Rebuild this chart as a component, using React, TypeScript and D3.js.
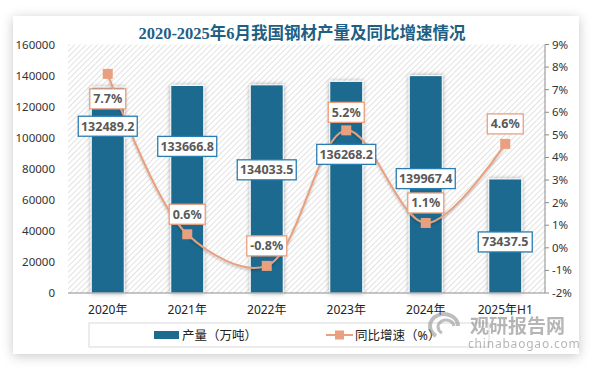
import React from "react";
import * as d3 from "d3";

const years = ["2020年", "2021年", "2022年", "2023年", "2024年", "2025年H1"];
const output = [132489.2, 133666.8, 134033.5, 136268.2, 139967.4, 73437.5];
const growth = [7.7, 0.6, -0.8, 5.2, 1.1, 4.6];
const leftTicks = [0, 20000, 40000, 60000, 80000, 100000, 120000, 140000, 160000];
const rightTicks = [-2, -1, 0, 1, 2, 3, 4, 5, 6, 7, 8, 9];

// hand placement of the labels (px from bar top / from marker)
const barLabelDy = [39, 61, 85, 73, 103, 63];
const pctLabelDy = [25, -20, -20, -18, -20, -20];

const W = 592;
const H = 368;
const m = { left: 68, right: 545, top: 44.5, bottom: 293 };
const BAR = "#1E6B8F";
const LINE = "#E9A07E";
const TXT = "#595959";
const FONT = "'Noto Sans', 'Noto Sans CJK SC', sans-serif";

const App: React.FC = () => {
  const x = d3.scaleBand<string>().domain(years).range([m.left, m.right]).paddingInner(0.585).paddingOuter(0.2925);
  const yL = d3.scaleLinear().domain([0, 160000]).range([m.bottom, m.top]);
  const yR = d3.scaleLinear().domain([-2, 9]).range([m.bottom, m.top]);
  const cx = (i: number) => (x(years[i]) as number) + x.bandwidth() / 2;

  const line = d3
    .line<number>()
    .x((_, i) => cx(i))
    .y((d) => yR(d))
    .curve(d3.curveCatmullRom.alpha(0.5));

  const box = (key: string, cxv: number, cyv: number, text: string, stroke: string, w: number) => (
    <g key={key}>
      <rect x={cxv - w / 2} y={cyv - 10} width={w} height={20} fill="#fff" stroke={stroke} strokeWidth={1.3} />
      <text x={cxv} y={cyv + 4.5} textAnchor="middle" fontSize={12.5} fontWeight="bold" fill={TXT} fontFamily={FONT}>
        {text}
      </text>
    </g>
  );

  return (
    <svg width={W} height={H} style={{ position: "absolute", left: 0, top: 0 }}>
      <defs>
        <filter id="card" x="-10%" y="-10%" width="120%" height="120%">
          <feDropShadow dx="0" dy="2" stdDeviation="6" floodColor="#000" floodOpacity="0.22" />
        </filter>
        <filter id="bsh" x="-30%" y="-10%" width="160%" height="120%">
          <feDropShadow dx="0" dy="0" stdDeviation="2" floodColor="#000" floodOpacity="0.35" />
        </filter>
        <filter id="lsh" x="-10%" y="-10%" width="120%" height="130%">
          <feDropShadow dx="0" dy="1.5" stdDeviation="1.2" floodColor="#000" floodOpacity="0.25" />
        </filter>
        <pattern id="hatch" width="4" height="4" patternUnits="userSpaceOnUse" patternTransform="rotate(45)">
          <rect width="4" height="4" fill="#fff" />
          <line x1="0" y1="0" x2="0" y2="4" stroke="#d6d6d6" strokeWidth="1.4" />
        </pattern>
      </defs>

      <rect width={W} height={H} fill="#fff" />
      <rect x={13} y={16} width={566} height={338} fill="#fff" filter="url(#card)" />

      <text x={302} y={39} textAnchor="middle" fontSize={16.5} fontWeight="bold" fill="#1F5F84"
        fontFamily="'Liberation Serif', 'Noto Sans CJK SC', serif">
        2020-2025年6月我国钢材产量及同比增速情况
      </text>

      <rect x={m.left} y={m.top} width={m.right - m.left} height={m.bottom - m.top} fill="url(#hatch)" />

      {leftTicks.map((t) => (
        <text key={t} x={55} y={yL(t) + 4} textAnchor="end" fontSize={11.5} fill="#333" fontFamily={FONT}>
          {t}
        </text>
      ))}

      <line x1={m.right} x2={m.right} y1={m.top} y2={m.bottom} stroke="#8c8c8c" />
      {rightTicks.map((t) => (
        <g key={t}>
          <line x1={m.right} x2={m.right + 4} y1={yR(t)} y2={yR(t)} stroke="#8c8c8c" />
          <text x={552} y={yR(t) + 4} fontSize={11.5} fill="#333" fontFamily={FONT}>
            {t}%
          </text>
        </g>
      ))}

      {output.map((v, i) => (
        <rect key={i} x={x(years[i])} y={yL(v)} width={x.bandwidth()} height={yL(0) - yL(v)}
          fill={BAR} stroke="#fff" strokeWidth={1} filter="url(#bsh)" />
      ))}

      <line x1={m.left} x2={m.right} y1={m.bottom} y2={m.bottom} stroke="#8c8c8c" />

      {years.map((c, i) => (
        <text key={c} x={cx(i)} y={314} textAnchor="middle" fontSize={12} fill="#222" fontFamily={FONT}>
          {c}
        </text>
      ))}

      <path d={line(growth) || ""} fill="none" stroke={LINE} strokeWidth={2} filter="url(#lsh)" />
      {growth.map((g, i) => (
        <rect key={i} x={cx(i) - 5} y={yR(g) - 5} width={10} height={10} fill={LINE} />
      ))}

      {output.map((v, i) => box("b" + i, cx(i), yL(v) + barLabelDy[i], v.toFixed(1), "#2A7DB0", i === 5 ? 54 : 59))}
      {growth.map((g, i) => box("p" + i, cx(i), yR(g) + pctLabelDy[i], g.toFixed(1) + "%", LINE, g < 0 ? 40 : 36))}

      <rect x={89} y={323} width={400} height={24} fill="#fff" stroke="#d9d9d9" />
      <rect x={154} y={331} width={25} height={8} fill={BAR} />
      <text x={182} y={340} fontSize={12.5} fill="#222" fontFamily={FONT}>产量（万吨）</text>
      <line x1={326} x2={353} y1={335} y2={335} stroke={LINE} strokeWidth={2} />
      <rect x={335} y={330.5} width={9} height={9} fill={LINE} />
      <text x={355} y={340} fontSize={12.5} fill="#222" fontFamily={FONT}>同比增速（%）</text>

      <g opacity={0.55}>
        <path d="M436,336 a14,12 0 1,1 22,-10" fill="none" stroke="#8a8a8a" strokeWidth={4} />
        <path d="M442,333 a8,7 0 1,1 12,-7" fill="none" stroke="#8a8a8a" strokeWidth={3} />
        <text x={470} y={333} fontSize={19} fontWeight="bold" fill="#7a7a7a" fontFamily="'Noto Sans CJK SC', sans-serif">
          观研报告网
        </text>
        <text x={468} y={348} fontSize={12} fill="#7a7a7a" fontFamily={FONT} letterSpacing={0.8}>
          chinabaogao.com
        </text>
      </g>
    </svg>
  );
};

export default App;
